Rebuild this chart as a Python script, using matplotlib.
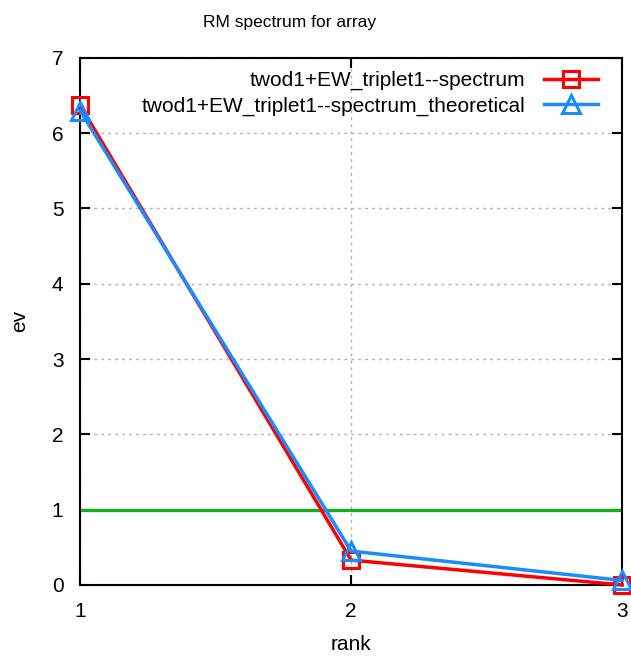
import matplotlib
matplotlib.use('Agg')
import matplotlib.pyplot as plt

# eigenvalue spectrum, measured vs. theoretical
rank = [1, 2, 3]
spectrum = [6.37, 0.33, 0.0]
spectrum_theoretical = [6.30, 0.45, 0.06]
threshold = 1.0

plt.rcParams['font.family'] = ['Liberation Sans', 'DejaVu Sans']

fig = plt.figure(figsize=(6.31, 6.58), dpi=100)
ax = fig.add_axes([0.127, 0.111, 0.859, 0.801])

ax.axhline(threshold, color='#1aab1a', lw=2.4, zorder=2)
ax.plot(rank, spectrum, color='#ff0000', lw=2.5, marker='s', ms=12,
        mfc='none', mew=2.2, label='twod1+EW_triplet1--spectrum', clip_on=False, zorder=3)
ax.plot(rank, spectrum_theoretical, color='#1a8cff', lw=2.5, marker='^', ms=13,
        mfc='none', mew=2.2, label='twod1+EW_triplet1--spectrum_theoretical',
        clip_on=False, zorder=4)

ax.set_xlim(1, 3)
ax.set_ylim(0, 7)
ax.set_xticks(rank)
ax.set_yticks(range(8))
ax.grid(True, color='#b0b0b0', ls=(0, (2, 3)), lw=1, zorder=1)
ax.set_axisbelow(True)
ax.tick_params(direction='in', top=True, right=True, length=7, width=1.5,
               labelsize=15, pad=12)
for s in ax.spines.values():
    s.set_linewidth(1.5)

ax.set_title('RM spectrum for array', fontsize=12.5, pad=22, x=0.387)
ax.set_xlabel('rank', fontsize=15, labelpad=10)
ax.set_ylabel('ev', fontsize=15, labelpad=16)

ax.legend(loc='upper right', frameon=False, markerfirst=False, fontsize=15,
          handlelength=2.6, borderaxespad=0.1, labelspacing=0.3, handletextpad=0.9,
          bbox_to_anchor=(0.975, 0.995))

fig.savefig('out.png', dpi=100)
